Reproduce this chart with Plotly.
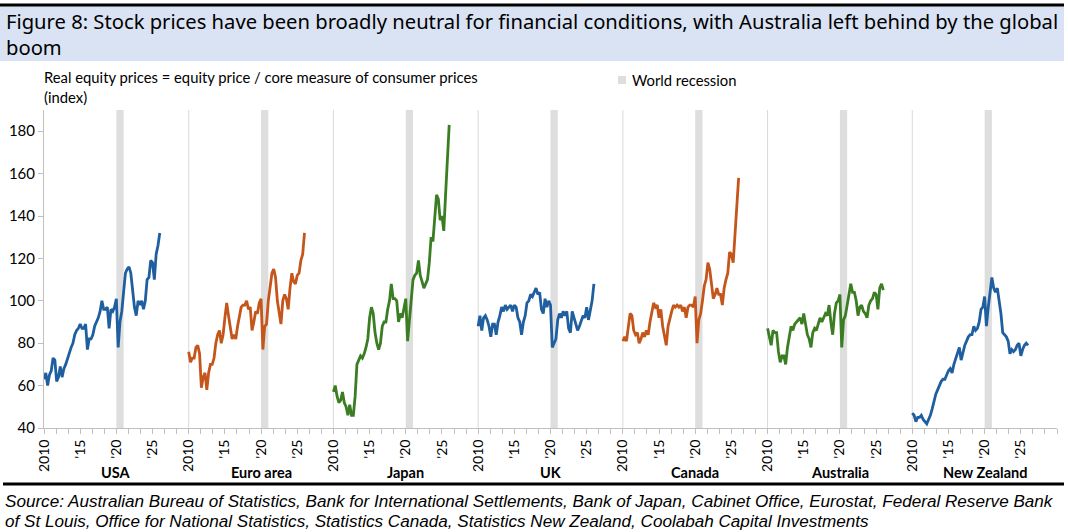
import plotly.graph_objects as go

# quarterly observations, 2010Q1 .. 2026Q1
quarters = [2010 + i / 4 for i in range(65)]

countries = ["USA", "Euro area", "Japan", "UK", "Canada", "Australia", "New Zealand"]

usa = [63, 66, 60, 65, 67, 73, 72, 62, 64, 69, 64, 68, 70, 73, 76, 78,
       80, 84, 86, 87, 89, 87, 87, 89, 77, 82, 82, 84, 88, 90, 92, 95,
       100, 96, 96, 97, 87, 96, 95, 97, 101, 78, 90, 95, 105, 113, 115, 116,
       113, 106, 97, 93, 100, 98, 100, 96, 100, 110, 111, 119, 118, 110, 122, 126,
       132]
euro_area = [76, 71, 73, 73, 78, 79, 75, 59, 64, 66, 58, 66, 70, 70, 73, 80,
             84, 86, 80, 84, 92, 99, 93, 88, 82, 84, 82, 88, 93, 97, 98, 98,
             100, 96, 97, 86, 90, 95, 94, 99, 101, 77, 88, 89, 100, 108, 113, 115,
             111, 100, 95, 89, 100, 103, 101, 96, 106, 113, 109, 108, 112, 113, 119, 122,
             132]
japan = [57, 60, 55, 52, 53, 57, 52, 50, 46, 51, 46, 46, 55, 70, 72, 74,
         73, 75, 78, 82, 92, 97, 94, 85, 80, 77, 80, 88, 90, 90, 96, 100,
         108, 101, 101, 100, 90, 94, 92, 97, 101, 81, 91, 98, 110, 112, 113, 119,
         112, 109, 106, 108, 110, 118, 130, 128, 140, 150, 148, 138, 140, 133, 150, 165,
         183]
uk = [88, 93, 86, 92, 93, 91, 88, 83, 89, 89, 84, 90, 93, 97, 95, 98,
      96, 97, 98, 95, 98, 97, 92, 90, 84, 90, 93, 99, 100, 103, 102, 104,
      106, 103, 104, 96, 94, 101, 97, 100, 98, 78, 80, 82, 91, 94, 92, 95,
      93, 95, 87, 85, 95, 92, 88, 86, 88, 91, 93, 92, 97, 91, 96, 100,
      108]
canada = [81, 83, 81, 88, 94, 93, 86, 84, 85, 80, 82, 85, 83, 86, 84, 90,
          94, 99, 97, 98, 92, 96, 88, 84, 79, 88, 92, 95, 98, 97, 98, 97,
          98, 95, 97, 92, 97, 98, 98, 97, 102, 80, 91, 94, 100, 107, 110, 118,
          115, 108, 101, 103, 106, 103, 103, 98, 106, 110, 113, 123, 122, 118, 132, 145,
          158]
australia = [87, 83, 79, 86, 85, 85, 76, 71, 74, 74, 70, 78, 84, 88, 86, 89,
             90, 91, 92, 89, 94, 89, 84, 82, 78, 85, 87, 86, 89, 92, 90, 92,
             94, 93, 98, 90, 84, 94, 99, 100, 103, 78, 91, 93, 99, 103, 108, 104,
             104, 100, 93, 97, 98, 95, 94, 92, 98, 100, 101, 104, 103, 96, 106, 108,
             105]
new_zealand = [47, 46, 43, 45, 45, 46, 44, 43, 42, 44, 46, 49, 53, 56, 58, 60,
               62, 63, 63, 65, 67, 68, 66, 70, 73, 76, 78, 72, 76, 79, 81, 83,
               84, 84, 88, 86, 87, 90, 96, 97, 102, 88, 97, 103, 111, 106, 104, 106,
               100, 94, 85, 84, 83, 81, 75, 77, 76, 77, 79, 80, 74, 77, 79, 80,
               79]

series = [usa, euro_area, japan, uk, canada, australia, new_zealand]

recession_start = 2020
recession_end = 2021

year_ticks = [2010, 2015, 2020, 2025]
year_labels = ["2010", "'15", "'20", "'25"]

BLUE = "#1f5f9f"
ORANGE = "#c5561b"
GREEN = "#3a7d22"
colors = [BLUE, ORANGE, GREEN, BLUE, ORANGE, GREEN, BLUE]

PANEL = 20  # years of x axis given to each country

# plot area in pixels (used to place the text around it)
L, R, T, B = 44, 1057, 110, 428
W, H = R - L, B - T


def fx(px):
    return (px - L) / W


def fy(py):
    return (B - py) / H


fig = go.Figure()

shapes = []
tickvals, ticktext = [], []
annotations = []

for i, (name, vals) in enumerate(zip(countries, series)):
    off = i * PANEL - 2010
    fig.add_trace(go.Scatter(
        x=[q + off for q in quarters], y=vals, mode="lines", name=name,
        line=dict(color=colors[i], width=2.8), showlegend=False,
    ))
    # recession band
    shapes.append(dict(type="rect", xref="x", yref="paper",
                       x0=recession_start + off, x1=recession_end + off, y0=0, y1=1,
                       fillcolor="#dedede", line=dict(width=0), layer="below"))
    # separator between panels
    if i > 0:
        shapes.append(dict(type="line", xref="x", yref="paper",
                           x0=2010 + off, x1=2010 + off, y0=0, y1=1,
                           line=dict(color="#d9d9d9", width=1), layer="below"))
    for yv, lab in zip(year_ticks, year_labels):
        tickvals.append(yv + off)
        ticktext.append(lab)
    annotations.append(dict(x=i * PANEL + PANEL / 2, xref="x", y=fy(472), yref="paper",
                            text="<b>%s</b>" % name, showarrow=False,
                            font=dict(size=14.5, color="#000000"),
                            xanchor="center", yanchor="middle"))

# title banner and rules
shapes += [
    dict(type="rect", xref="paper", yref="paper", x0=fx(0), x1=fx(1064), y0=fy(6), y1=fy(61),
         fillcolor="#dae3f3", line=dict(width=0), layer="below"),
    dict(type="line", xref="paper", yref="paper", x0=fx(0), x1=fx(1064), y0=fy(5), y1=fy(5),
         line=dict(color="#000000", width=3)),
    dict(type="line", xref="paper", yref="paper", x0=fx(3), x1=fx(1064), y0=fy(484), y1=fy(484),
         line=dict(color="#000000", width=3)),
    # legend swatch
    dict(type="rect", xref="paper", yref="paper", x0=fx(618), x1=fx(626), y0=fy(76), y1=fy(84),
         fillcolor="#dedede", line=dict(width=0)),
]

title_font = dict(family="Noto Sans", size=20.2, color="#000000")
note_font = dict(size=14.8, color="#000000")
source_font = dict(family="Liberation Sans", size=17.1, color="#000000")
annotations += [
    dict(x=fx(4), y=fy(21), text="Figure 8: Stock prices have been broadly neutral for financial "
         "conditions, with Australia left behind by the global", font=title_font),
    dict(x=fx(4), y=fy(47), text="boom", font=title_font),
    dict(x=fx(42), y=fy(77), text="Real equity prices = equity price / core measure of consumer prices",
         font=note_font),
    dict(x=fx(42), y=fy(97), text="(index)", font=note_font),
    dict(x=fx(630), y=fy(80), text="World recession", font=note_font),
    dict(x=fx(3), y=fy(501), text="<i>Source: Australian Bureau of Statistics, Bank for International "
         "Settlements, Bank of Japan, Cabinet Office, Eurostat, Federal Reserve Bank</i>",
         font=source_font),
    dict(x=fx(3), y=fy(521), text="<i>of St Louis, Office for National Statistics, Statistics Canada, "
         "Statistics New Zealand, Coolabah Capital Investments</i>",
         font=source_font),
]
for a in annotations[-7:]:
    a.update(xref="paper", yref="paper", showarrow=False, xanchor="left", yanchor="middle")

fig.update_layout(
    width=1068, height=532,
    margin=dict(l=L, r=1068 - R, t=T, b=532 - B),
    paper_bgcolor="#ffffff", plot_bgcolor="#ffffff",
    font=dict(family="Lato", size=14, color="#000000"),
    shapes=shapes, annotations=annotations,
)
fig.update_xaxes(
    range=[0, PANEL * len(countries)], tickmode="array", tickvals=tickvals, ticktext=ticktext,
    tickangle=-90, ticks="outside", ticklen=5, tickcolor="#bfbfbf", automargin=False,
    showline=True, linecolor="#bfbfbf", linewidth=1, showgrid=False, zeroline=False,
    tickfont=dict(size=14, color="#000000"),
    minor=dict(tickmode="linear", tick0=0, dtick=5 / 3, ticks="outside", ticklen=5,
               tickcolor="#bfbfbf", showgrid=False),
)
fig.update_yaxes(
    range=[40, 190], tickvals=list(range(40, 181, 20)), ticks="outside", ticklen=5,
    tickcolor="#bfbfbf", showline=True, linecolor="#bfbfbf", linewidth=1, automargin=False,
    showgrid=False, zeroline=False, tickfont=dict(size=15, color="#000000"),
)

# the page body has a default 8px margin; drop it so the figure fills the window
fig.write_html("out.html", config={"displayModeBar": False},
               post_script="document.body.style.margin = '0px';")
